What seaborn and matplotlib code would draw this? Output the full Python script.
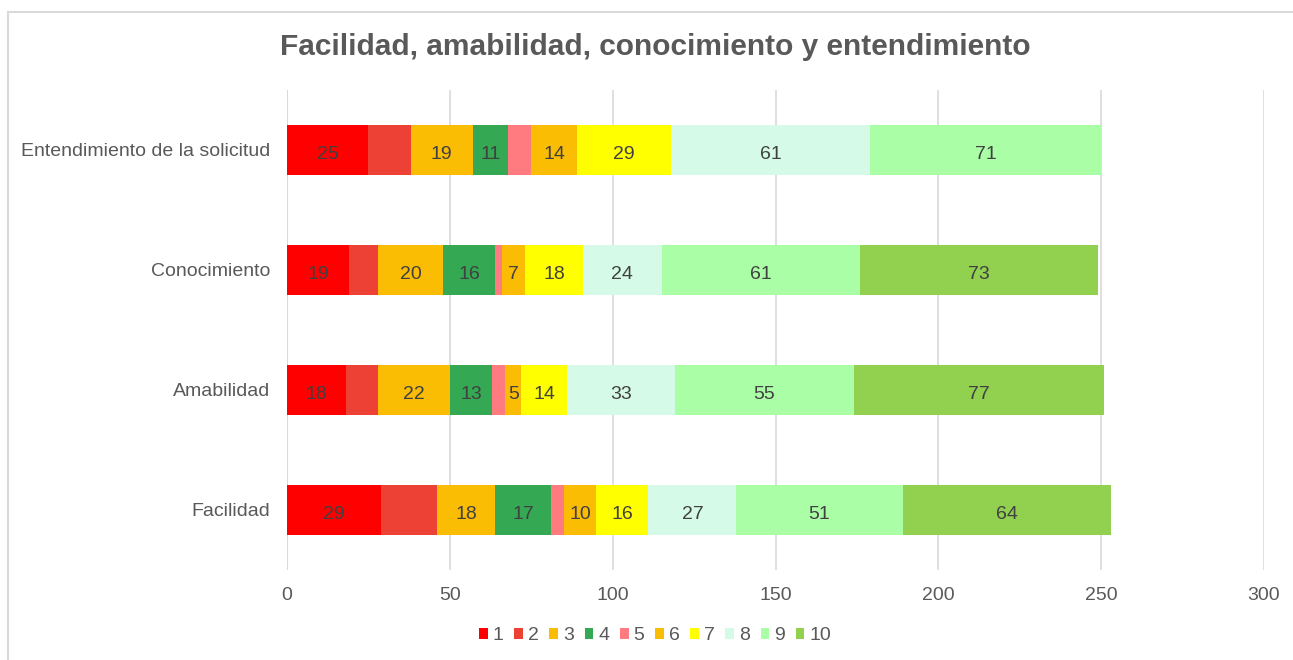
import numpy as np
import pandas as pd
import seaborn as sns
import matplotlib.pyplot as plt
from matplotlib.patches import Patch
from matplotlib.lines import Line2D

categories = ["Entendimiento de la solicitud", "Conocimiento", "Amabilidad", "Facilidad"]
scores = ["1", "2", "3", "4", "5", "6", "7", "8", "9", "10"]
s1 = [25, 19, 18, 29]
s2 = [13, 9, 10, 17]
s3 = [19, 20, 22, 18]
s4 = [11, 16, 13, 17]
s5 = [7, 2, 4, 4]
s6 = [14, 7, 5, 10]
s7 = [29, 18, 14, 16]
s8 = [61, 24, 33, 27]
s9 = [71, 61, 55, 51]
s10 = [0, 73, 77, 64]
colors = ["#FF0000", "#EE4136", "#FBBC04", "#34A853", "#FF7B80",
          "#FBBC04", "#FFFF00", "#D5FAE8", "#AAFFA6", "#92D050"]
unlabeled = ["2", "5"]

df = pd.DataFrame({"cat": categories})
for name, vals in zip(scores, [s1, s2, s3, s4, s5, s6, s7, s8, s9, s10]):
    df[name] = vals
cum = df[scores].cumsum(axis=1)

sns.set_theme(style="white")
plt.rcParams["font.family"] = ["Liberation Sans", "DejaVu Sans"]

fig = plt.figure(figsize=(12.93, 6.6), dpi=100)
ax = fig.add_axes([287 / 1293, 1 - 570 / 660, 977 / 1293, 480 / 660])

# draw stacks from the longest cumulative down so shorter ones sit on top
for name, col in zip(scores[::-1], colors[::-1]):
    sns.barplot(x=cum[name], y=df["cat"], color=col, width=0.41,
                saturation=1, ax=ax, orient="h", zorder=2, linewidth=0)

for i in range(len(categories)):
    for name in scores:
        v = df.loc[i, name]
        if v == 0 or name in unlabeled:
            continue
        xc = cum.loc[i, name] - v / 2
        ax.text(xc, i + 0.02, str(v), ha="center", va="center_baseline",
                fontsize=14, color="#404040", zorder=3)

ax.set_xlim(0, 300)
ax.set_ylim(3.5, -0.5)
ax.set_xticks(np.arange(0, 301, 50))
ax.xaxis.grid(True, color="#D9D9D9", linewidth=1.2, zorder=0)
ax.set_axisbelow(True)
for sp in ax.spines.values():
    sp.set_visible(False)
ax.axvline(0, color="#D9D9D9", linewidth=1.5, zorder=1)
ax.set_xlabel("")
ax.set_ylabel("")
ax.tick_params(axis="x", labelsize=14, colors="#595959", length=0, pad=12)
ax.tick_params(axis="y", labelsize=14, colors="#595959", length=0, pad=12)

fig.text(655 / 1293, 1 - 47 / 660, "Facilidad, amabilidad, conocimiento y entendimiento",
         ha="center", va="center", fontsize=21.5, fontweight="bold", color="#595959")

handles = [Patch(facecolor=c, edgecolor="none") for c in colors]
fig.legend(handles, scores, loc="center", bbox_to_anchor=(655 / 1293, 1 - 636 / 660),
           ncol=10, frameon=False, fontsize=14, handlelength=0.45,
           handleheight=0.45, handletextpad=0.25, columnspacing=0.55,
           labelcolor="#595959")

# chart border (left and top visible in the reference)
fig.add_artist(Line2D([8 / 1293, 8 / 1293], [0, 1 - 12 / 660], transform=fig.transFigure,
                      color="#D9D9D9", linewidth=1.5))
fig.add_artist(Line2D([8 / 1293, 1], [1 - 12 / 660, 1 - 12 / 660], transform=fig.transFigure,
                      color="#D9D9D9", linewidth=1.5))

fig.savefig("out.png", dpi=100)
